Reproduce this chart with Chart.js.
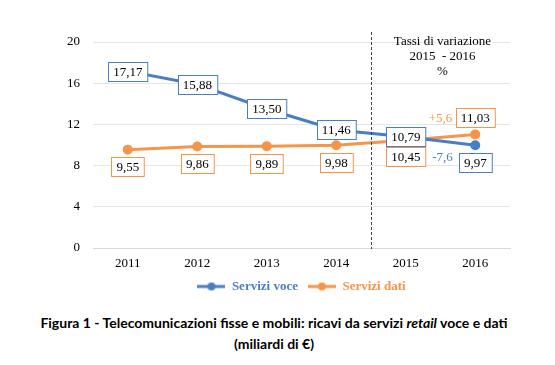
<!DOCTYPE html>
<html>
<head>
<meta charset="utf-8">
<script src="https://cdn.jsdelivr.net/npm/chart.js@4"></script>
<style>
  body { margin: 0; background: #fff; }
  #wrap { position: relative; width: 555px; height: 303px; }
  #caption {
    position: absolute; top: 312px; left: 0; width: 548px;
    text-align: center; font: bold 14px/21px Lato, "Liberation Sans", sans-serif; color: #000;
  }
</style>
</head>
<body>
<div id="wrap"><canvas id="chart"></canvas></div>
<div id="caption">Figura 1 - Telecomunicazioni fisse e mobili: ricavi da servizi <i>retail</i> voce e dati<br>(miliardi di €)</div>
<script>
// data
const years = ['2011', '2012', '2013', '2014', '2015', '2016'];
const voce = [17.17, 15.88, 13.50, 11.46, 10.79, 9.97];
const dati = [9.55, 9.86, 9.89, 9.98, 10.45, 11.03];
const rates = ['-7,6', '+5,6'];   // tassi di variazione 2015-2016 (voce, dati)
const noteLines = ['Tassi di variazione', '2015  - 2016', '%'];

const blue = '#4a7ec4';
const orange = '#f6954a';
const serif = '"Liberation Serif", "Times New Roman", serif';

// label offsets from the point (px)
const labelShift = [
  [0, 0, 0, 0, 0, 17],
  [17, 17, 17, 17, 16, -17]
];

function fmt(v) { return v.toFixed(2).replace('.', ','); }

function legendMark(color) {
  const c = document.createElement('canvas');
  c.width = 28; c.height = 10;
  const g = c.getContext('2d');
  g.strokeStyle = color; g.lineWidth = 3;
  g.beginPath(); g.moveTo(0, 5); g.lineTo(28, 5); g.stroke();
  g.fillStyle = color;
  g.beginPath(); g.arc(14, 5, 4, 0, Math.PI * 2); g.fill();
  return c;
}

const extras = {
  id: 'extras',
  afterDatasetsDraw(chart) {
    const ctx = chart.ctx;
    const x = chart.scales.x;
    const area = chart.chartArea;
    ctx.save();

    // dashed separator between 2014 and 2015
    const sx = Math.round((x.getPixelForValue(3) + x.getPixelForValue(4)) / 2) + 0.5;
    ctx.strokeStyle = '#404040';
    ctx.lineWidth = 1;
    ctx.setLineDash([3, 2]);
    ctx.beginPath(); ctx.moveTo(sx, area.top - 10); ctx.lineTo(sx, area.bottom + 1); ctx.stroke();
    ctx.setLineDash([]);

    // note text
    const nx = (x.getPixelForValue(4) + x.getPixelForValue(5)) / 2 + 2;
    ctx.font = '13px ' + serif;
    ctx.fillStyle = '#000';
    ctx.textAlign = 'center';
    ctx.textBaseline = 'middle';
    noteLines.forEach((t, i) => ctx.fillText(t, nx, area.top + i * 15));

    // boxed value labels
    const labelY = [];
    chart.data.datasets.forEach((ds, di) => {
      const meta = chart.getDatasetMeta(di);
      labelY.push([]);
      meta.data.forEach((pt, i) => {
        const txt = fmt(ds.data[i]);
        const w = ctx.measureText(txt).width + 10;
        const h = 19;
        const cy = pt.y + labelShift[di][i];
        labelY[di].push(cy);
        const bx = Math.round(pt.x - w / 2) + 0.5;
        const by = Math.round(cy - h / 2) + 0.5;
        ctx.fillStyle = '#fff';
        ctx.fillRect(bx, by, w, h);
        ctx.strokeStyle = ds.borderColor;
        ctx.strokeRect(bx, by, w, h);
        ctx.fillStyle = '#000';
        ctx.fillText(txt, pt.x, cy + 1);
      });
    });

    // variation rates
    ctx.font = '13px ' + serif;
    ctx.fillStyle = blue;
    ctx.fillText(rates[0], nx, labelY[1][4] + 1);
    ctx.fillStyle = orange;
    ctx.fillText(rates[1], nx - 2, labelY[1][5] + 1);
    ctx.restore();
  }
};

new Chart(document.getElementById('chart'), {
  type: 'line',
  data: {
    labels: years,
    datasets: [{
      label: 'Servizi voce',
      data: voce,
      borderColor: blue,
      backgroundColor: blue,
      borderWidth: 3,
      pointRadius: 3.5,
      pointHoverRadius: 3.5,
      pointStyle: 'circle'
    }, {
      label: 'Servizi dati',
      data: dati,
      borderColor: orange,
      backgroundColor: orange,
      borderWidth: 3,
      pointRadius: 3.5,
      pointHoverRadius: 3.5,
      pointStyle: 'circle'
    }]
  },
  options: {
    responsive: true,
    maintainAspectRatio: false,
    animation: false,
    layout: { padding: { top: 42, right: 45, left: 0, bottom: 0 } },
    scales: {
      x: {
        offset: true,
        grid: { display: false, drawTicks: false },
        border: { color: '#d9d9d9' },
        ticks: { color: '#000', padding: 8, font: { family: serif, size: 13 } },
        afterFit(s) { s.height = 22; }
      },
      y: {
        min: 0, max: 20,
        grid: { color: '#e6e6e6', drawTicks: false },
        border: { display: false },
        ticks: { stepSize: 4, color: '#000', padding: 13, font: { family: serif, size: 13 } },
        afterFit(s) { s.width = 93; }
      }
    },
    plugins: {
      tooltip: { enabled: false },
      legend: {
        position: 'bottom',
        fullSize: false,
        labels: {
          usePointStyle: true,
          pointStyleWidth: 28,
          padding: 10,
          font: { family: serif, size: 13, weight: 'bold' },
          generateLabels(chart) {
            return chart.data.datasets.map((ds, i) => ({
              text: ds.label,
              fontColor: ds.borderColor,
              fillStyle: ds.borderColor,
              strokeStyle: ds.borderColor,
              lineWidth: 0,
              pointStyle: legendMark(ds.borderColor),
              hidden: false,
              datasetIndex: i
            }));
          }
        }
      }
    }
  },
  plugins: [extras]
});
</script>
</body>
</html>
